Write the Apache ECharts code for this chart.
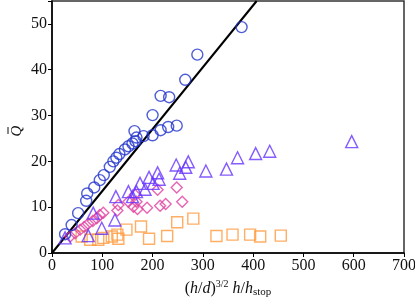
<!DOCTYPE html>
<html><head><meta charset="utf-8">
<script src="https://cdn.jsdelivr.net/npm/echarts@6/dist/echarts.min.js"></script>
<style>html,body{margin:0;padding:0;background:#fff}#c{width:415px;height:298px}</style>
</head><body><div id="c"></div>
<script>
const xTicks = [0,100,200,300,400,500,600,700];
const yTicks = [0,10,20,30,40,50];
const circles = [[26,4.1],[39,6.1],[52,8.7],[68,11.4],[70,13],[84,14.3],[95,15.9],[103,17],[115,18.8],[122,20],[128,20.8],[134,21.6],[145,22.6],[152,23.3],[160,23.9],[166,24.4],[168,25.2],[182,25.5],[200,25.7],[216,26.8],[231,27.5],[248,27.8],[164,26.6],[200,30.1],[216,34.3],[233,34],[265,37.8],[289,43.3],[377,49.3]];
const triangles = [[26,3.3],[72,3.8],[99,5.4],[82,8.7],[125,7.2],[127,12.3],[152,13.4],[160,12.3],[168,13.4],[175,15.2],[185,13.9],[193,16.5],[201,15.2],[210,17.5],[213,16.1],[247,19.2],[254,17.4],[266,18.7],[271,19.9],[306,17.9],[347,18.3],[369,20.8],[405,21.7],[433,22.2],[596,24.3]];
const diamonds = [[36,3.6],[46,4.3],[56,5.1],[64,5.7],[72,6.4],[81,7],[89,7.6],[95,8.3],[102,8.8],[130,9.3],[132,10.5],[152,11.2],[162,10.1],[165,12.7],[168,11.2],[170,9.6],[189,9.9],[210,13.8],[215,10.3],[226,10.7],[248,14.3],[259,11.2]];
const squares = [[59,3.6],[76,2.9],[92,2.9],[102,3.3],[119,3.6],[130,4.0],[132,3.1],[148,5.1],[177,5.8],[193,3.1],[229,3.7],[249,6.7],[281,7.5],[327,3.7],[359,4.0],[394,4.0],[414,3.6],[455,3.8]];
const fitLine = [[0,0],[407,55]];

const font = 'Liberation Serif';
const chart = echarts.init(document.getElementById('c'));
function sc(data, symbol, color, size){
  return {type:'scatter', data, symbol, symbolSize:size, z:3,
    itemStyle:{color:'rgba(0,0,0,0)', borderColor:color, borderWidth:1.4}};
}
chart.setOption({
  animation:false,
  grid:{left:52, right:11, top:1, bottom:45, show:true, borderColor:'#333', borderWidth:1.5, outerBoundsMode:'none', containLabel:false},
  xAxis:{type:'value', min:0, max:700, interval:100,
    axisLine:{lineStyle:{color:'#000', width:1.5}},
    axisTick:{show:true, length:4, lineStyle:{color:'#000'}},
    splitLine:{show:false},
    axisLabel:{color:'#111', fontFamily:font, fontSize:16, margin:5},
    name:'{p|(}{i|h}{p|/}{i|d}{p|)}{s|3/2} {i|h}{p|/}{i|h}{b|stop}',
    nameLocation:'middle', nameGap:24,
    nameTextStyle:{fontFamily:font, fontSize:16, color:'#111',
      rich:{p:{fontFamily:font,fontSize:16},i:{fontFamily:font,fontSize:16,fontStyle:'italic'},
        s:{fontFamily:font,fontSize:10,verticalAlign:'top',padding:[0,0,8,0]},
        b:{fontFamily:font,fontSize:11,verticalAlign:'bottom',padding:[8,0,0,0]}}}
  },
  yAxis:{type:'value', min:0, max:55, interval:10,
    axisLine:{lineStyle:{color:'#000', width:1.5}},
    axisTick:{show:true, length:4, lineStyle:{color:'#000'}},
    splitLine:{show:false},
    axisLabel:{color:'#111', fontFamily:font, fontSize:16, margin:5,
      formatter:v=> v>50 ? '' : v}
  },
  graphic:[
    {type:'group', x:17, y:131, rotation:Math.PI/2, children:[
      {type:'text', style:{text:'Q', x:0, y:0, align:'center', verticalAlign:'middle', font:'italic 15px "Liberation Serif"', fill:'#111'}},
      {type:'line', shape:{x1:-3, y1:-9, x2:4, y2:-9}, style:{stroke:'#111', lineWidth:1}}
    ]}
  ],
  series:[
    {type:'line', data:fitLine, symbol:'none', lineStyle:{color:'#000', width:2}, z:2},
    sc(squares,'rect','#ff9a3c',11),
    sc(diamonds,'diamond','#e0409f',11),
    sc(triangles,'triangle','#6633ff',12),
    sc(circles,'circle','#2233cc',11)
  ]
});
</script></body></html>
